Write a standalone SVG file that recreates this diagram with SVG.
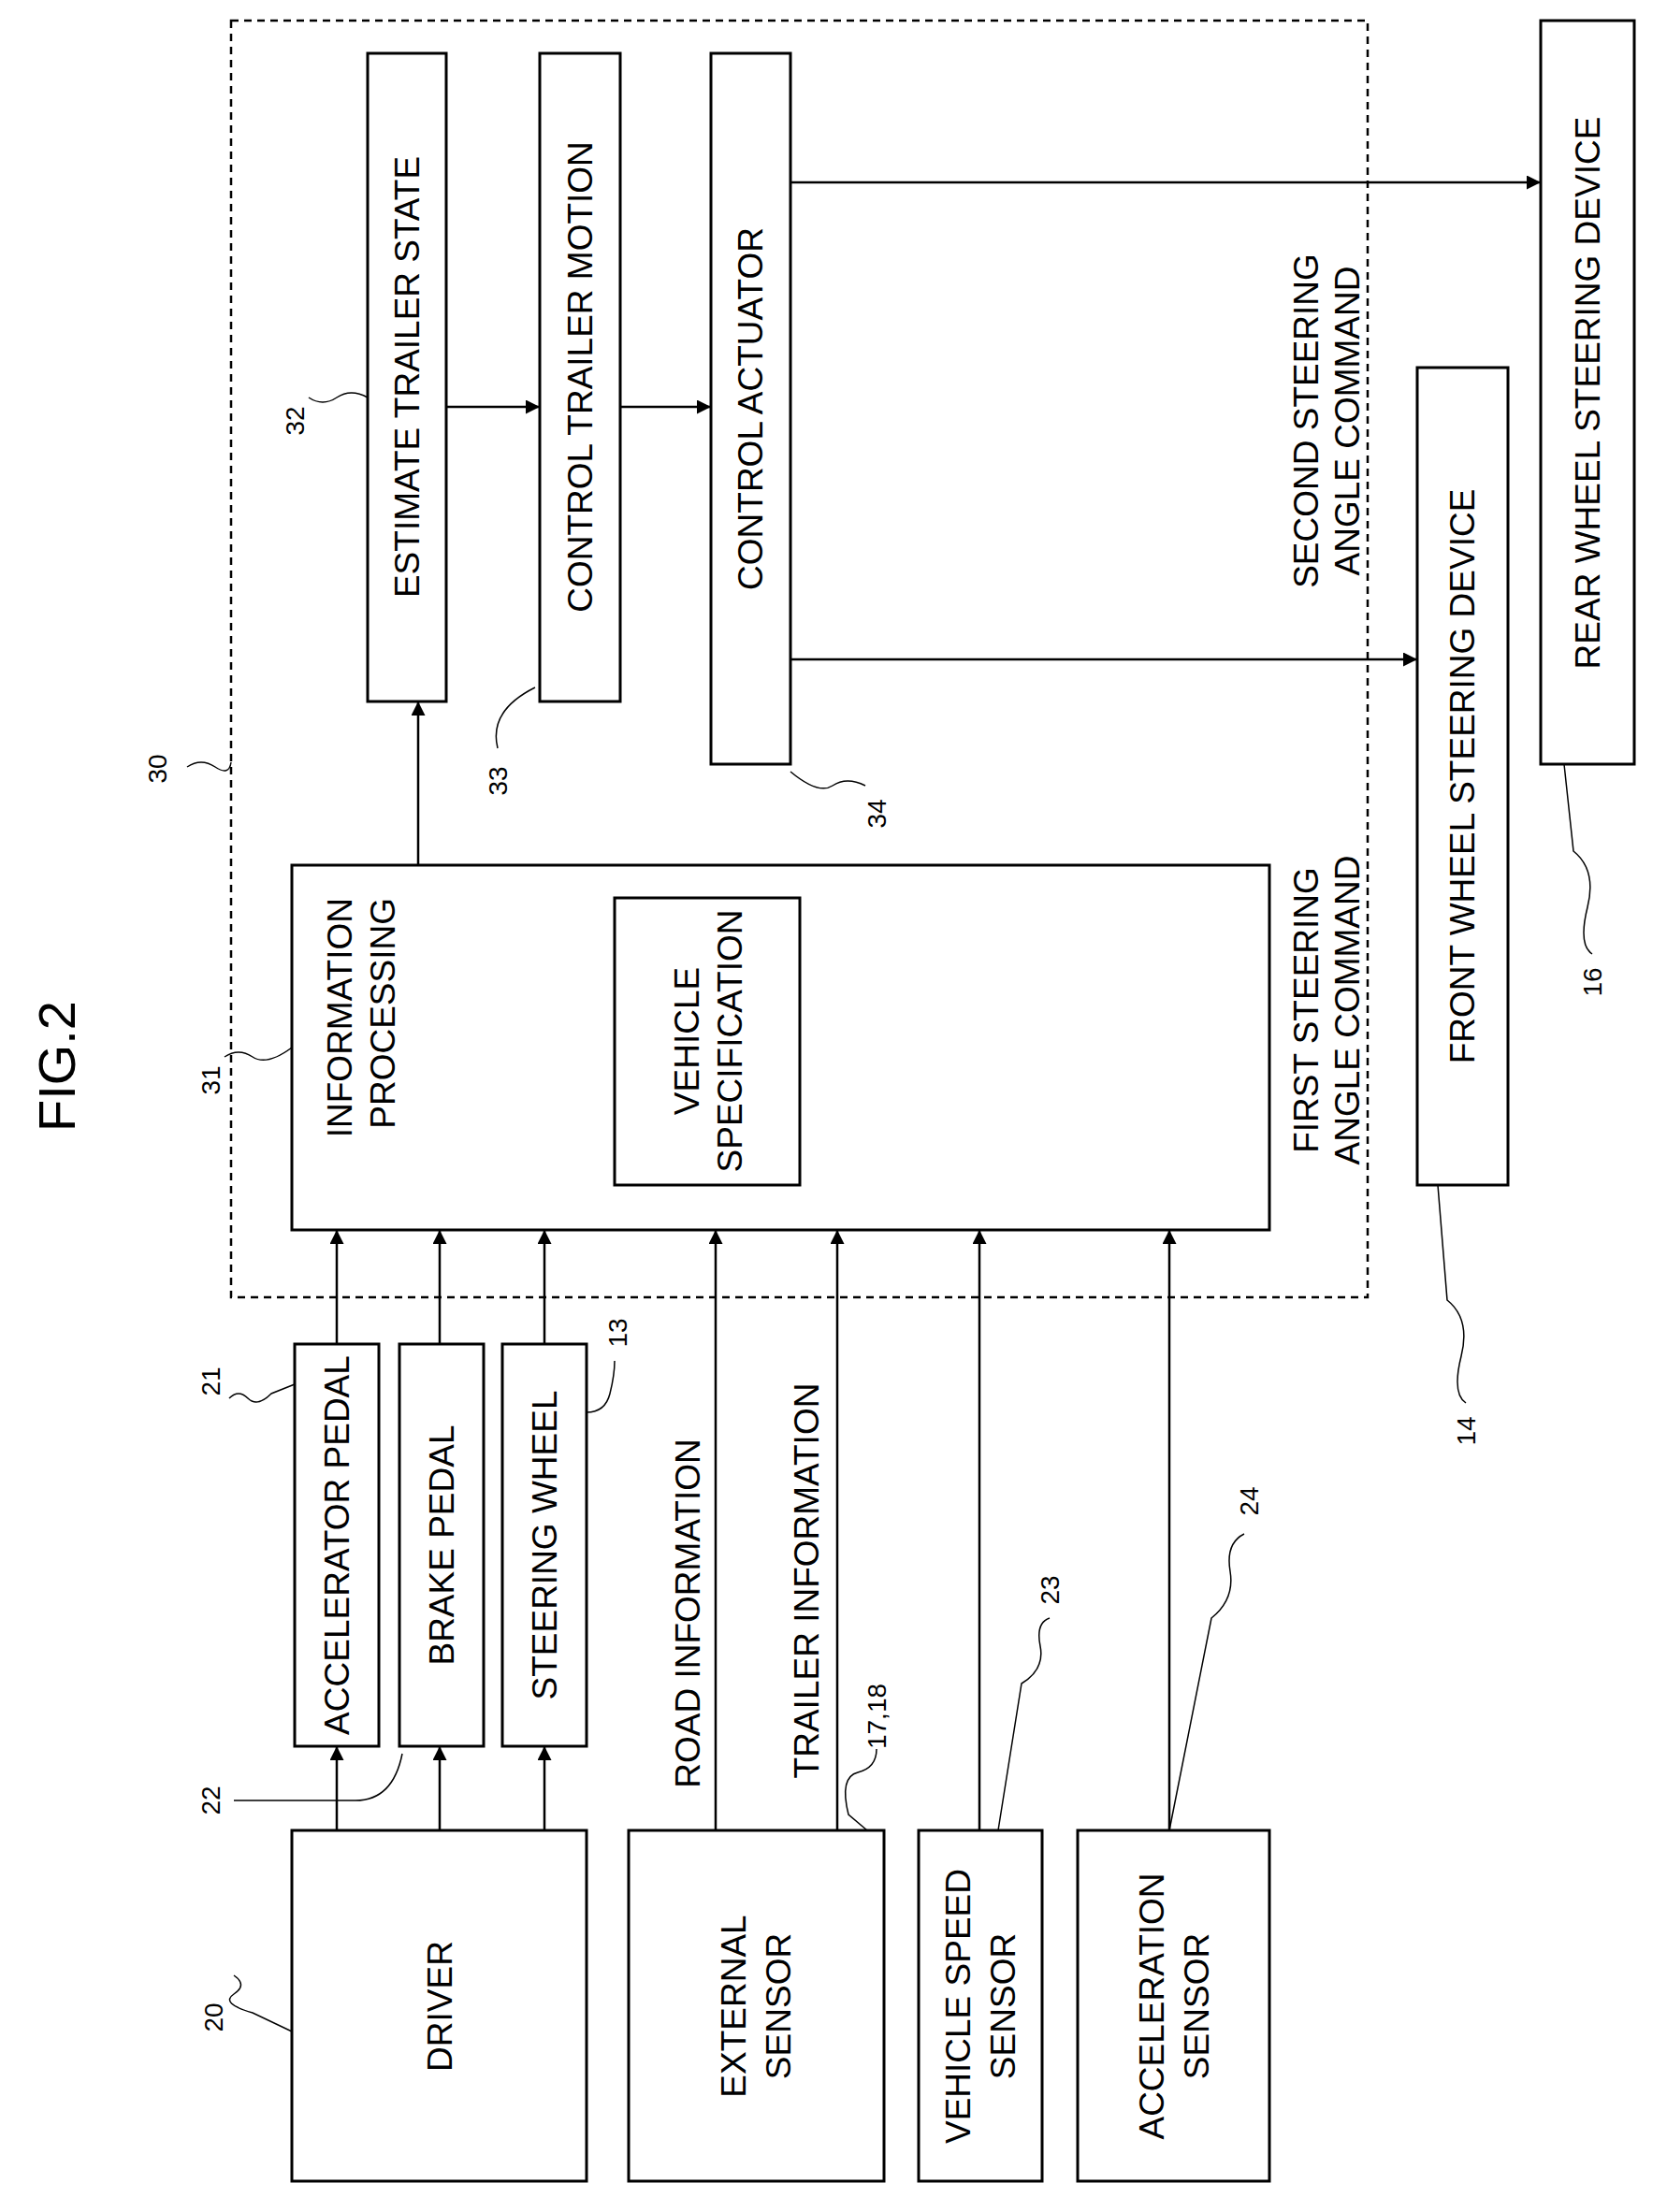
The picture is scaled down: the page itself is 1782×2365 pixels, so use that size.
<svg xmlns="http://www.w3.org/2000/svg" width="1782" height="2365" viewBox="0 0 1782 2365">
<style>
.b{fill:#fff;stroke:#000;stroke-width:3}
.t{font-family:"Liberation Sans",Arial,sans-serif;font-size:37px;fill:#000;text-anchor:middle;dominant-baseline:central}
.n{font-family:"Liberation Sans",Arial,sans-serif;font-size:28px;fill:#000;text-anchor:middle;dominant-baseline:central}
.c{fill:none;stroke:#000;stroke-width:2.5}
.l{fill:none;stroke:#000;stroke-width:1.5}
</style>
<defs><marker id="a" viewBox="0 0 10 10" refX="10" refY="5" markerWidth="6" markerHeight="6" orient="auto"><path d="M0,0L10,5L0,10z" fill="#000"/></marker></defs>
<rect width="1782" height="2365" fill="#fff"/>
<text class="t" transform="translate(60,1140) rotate(-90)" style="font-size:56px">FIG.2</text>
<g id="n30"><rect x="247" y="22" width="1215" height="1365" fill="none" stroke="#000" stroke-width="2.5" stroke-dasharray="8,6"/></g>
<g id="n32"><rect class="b" x="393" y="57" width="84" height="693"/><text class="t" transform="translate(435,403) rotate(-90)">ESTIMATE TRAILER STATE</text></g>
<g id="n33"><rect class="b" x="577" y="57" width="86" height="693"/><text class="t" transform="translate(620,403) rotate(-90)">CONTROL TRAILER MOTION</text></g>
<g id="n34"><rect class="b" x="760" y="57" width="85" height="760"/><text class="t" transform="translate(802,437) rotate(-90)">CONTROL ACTUATOR</text></g>
<g id="n16"><rect class="b" x="1647" y="22" width="100" height="795"/><text class="t" transform="translate(1697,420) rotate(-90)">REAR WHEEL STEERING DEVICE</text></g>
<g id="n14"><rect class="b" x="1515" y="393" width="97" height="874"/><text class="t" transform="translate(1563,830) rotate(-90)">FRONT WHEEL STEERING DEVICE</text></g>
<g id="n31"><rect class="b" x="312" y="925" width="1045" height="390"/><text class="t" text-anchor="end" transform="translate(385,960) rotate(-90)" style="text-anchor:end"><tspan x="0" y="-22">INFORMATION</tspan><tspan x="0" y="24">PROCESSING</tspan></text>
<rect class="b" x="657" y="960" width="198" height="307"/><text class="t" transform="translate(756,1113) rotate(-90)"><tspan x="0" y="-22">VEHICLE</tspan><tspan x="0" y="24">SPECIFICATION</tspan></text></g>
<g id="n21"><rect class="b" x="315" y="1437" width="90" height="430"/><text class="t" transform="translate(360,1652) rotate(-90)">ACCELERATOR PEDAL</text></g>
<g id="n22"><rect class="b" x="427" y="1437" width="90" height="430"/><text class="t" transform="translate(472,1652) rotate(-90)">BRAKE PEDAL</text></g>
<g id="n13"><rect class="b" x="537" y="1437" width="90" height="430"/><text class="t" transform="translate(582,1652) rotate(-90)">STEERING WHEEL</text></g>
<g id="n20"><rect class="b" x="312" y="1957" width="315" height="375"/><text class="t" transform="translate(470,2145) rotate(-90)">DRIVER</text></g>
<g id="n17"><rect class="b" x="672" y="1957" width="273" height="375"/><text class="t" transform="translate(808,2145) rotate(-90)"><tspan x="0" y="-24">EXTERNAL</tspan><tspan x="0" y="24">SENSOR</tspan></text></g>
<g id="n23"><rect class="b" x="982" y="1957" width="132" height="375"/><text class="t" transform="translate(1048,2145) rotate(-90)"><tspan x="0" y="-24">VEHICLE SPEED</tspan><tspan x="0" y="24">SENSOR</tspan></text></g>
<g id="n24"><rect class="b" x="1152" y="1957" width="205" height="375"/><text class="t" transform="translate(1255,2145) rotate(-90)"><tspan x="0" y="-24">ACCELERATION</tspan><tspan x="0" y="24">SENSOR</tspan></text></g>
<g id="connectors">
<path class="c" marker-end="url(#a)" d="M360,1957V1867"/>
<path class="c" marker-end="url(#a)" d="M470,1957V1867"/>
<path class="c" marker-end="url(#a)" d="M582,1957V1867"/>
<path class="c" marker-end="url(#a)" d="M360,1437V1315"/>
<path class="c" marker-end="url(#a)" d="M470,1437V1315"/>
<path class="c" marker-end="url(#a)" d="M582,1437V1315"/>
<path class="c" marker-end="url(#a)" d="M765,1957V1315"/>
<path class="c" marker-end="url(#a)" d="M895,1957V1315"/>
<path class="c" marker-end="url(#a)" d="M1047,1957V1315"/>
<path class="c" marker-end="url(#a)" d="M1250,1957V1315"/>
<path class="c" marker-end="url(#a)" d="M447,925V750"/>
<path class="c" marker-end="url(#a)" d="M477,435H577"/>
<path class="c" marker-end="url(#a)" d="M663,435H760"/>
<path class="c" marker-end="url(#a)" d="M845,705H1515"/>
<path class="c" marker-end="url(#a)" d="M845,195H1647"/>
</g>
<text class="t" transform="translate(735,1725) rotate(-90)">ROAD INFORMATION</text>
<text class="t" transform="translate(862,1690) rotate(-90)">TRAILER INFORMATION</text>
<text class="t" transform="translate(1418,1080) rotate(-90)"><tspan x="0" y="-22">FIRST STEERING</tspan><tspan x="0" y="22">ANGLE COMMAND</tspan></text>
<text class="t" transform="translate(1418,450) rotate(-90)"><tspan x="0" y="-22">SECOND STEERING</tspan><tspan x="0" y="22">ANGLE COMMAND</tspan></text>
<g id="labels">
<text class="n" transform="translate(228,2157) rotate(-90)">20</text><path class="l" d="M250,2112q15,10 0,20t20,20l42,20"/>
<text class="n" transform="translate(225,1477) rotate(-90)">21</text><path class="l" d="M245,1495q10,-10 20,0t25,-5l25,-10"/>
<text class="n" transform="translate(225,1925) rotate(-90)">22</text><path class="l" d="M250,1925H380q40,0 50,-50"/>
<text class="n" transform="translate(660,1425) rotate(-90)">13</text><path class="l" d="M627,1510q20,0 25,-20t5,-35"/>
<text class="n" transform="translate(937,1835) rotate(-90)">17,18</text><path class="l" d="M937,1870q0,20 -20,25t-10,45l20,17"/>
<text class="n" transform="translate(1122,1700) rotate(-90)">23</text><path class="l" d="M1122,1730q-15,5 -10,30t-20,40l-25,157"/>
<text class="n" transform="translate(1335,1605) rotate(-90)">24</text><path class="l" d="M1330,1640q-20,10 -15,40t-20,50l-45,227"/>
<text class="n" transform="translate(1567,1530) rotate(-90)">14</text><path class="l" d="M1567,1500q-15,-10 -5,-50t-15,-60l-10,-123"/>
<text class="n" transform="translate(1702,1050) rotate(-90)">16</text><path class="l" d="M1702,1020q-15,-10 -5,-50t-15,-60l-10,-93"/>
<text class="n" transform="translate(937,870) rotate(-90)">34</text><path class="l" d="M925,840q-20,-10 -35,0t-45,-15"/>
<text class="n" transform="translate(532,835) rotate(-90)">33</text><path class="l" d="M532,800q-10,-40 40,-65"/>
<text class="n" transform="translate(315,450) rotate(-90)">32</text><path class="l" d="M330,425q15,10 30,0t33,0"/>
<text class="n" transform="translate(225,1155) rotate(-90)">31</text><path class="l" d="M240,1130q15,-10 30,0t42,-10"/>
<text class="n" transform="translate(168,822) rotate(-90)">30</text><path class="l" d="M200,820q15,-10 30,0t17,-5"/>
</g>
</svg>
